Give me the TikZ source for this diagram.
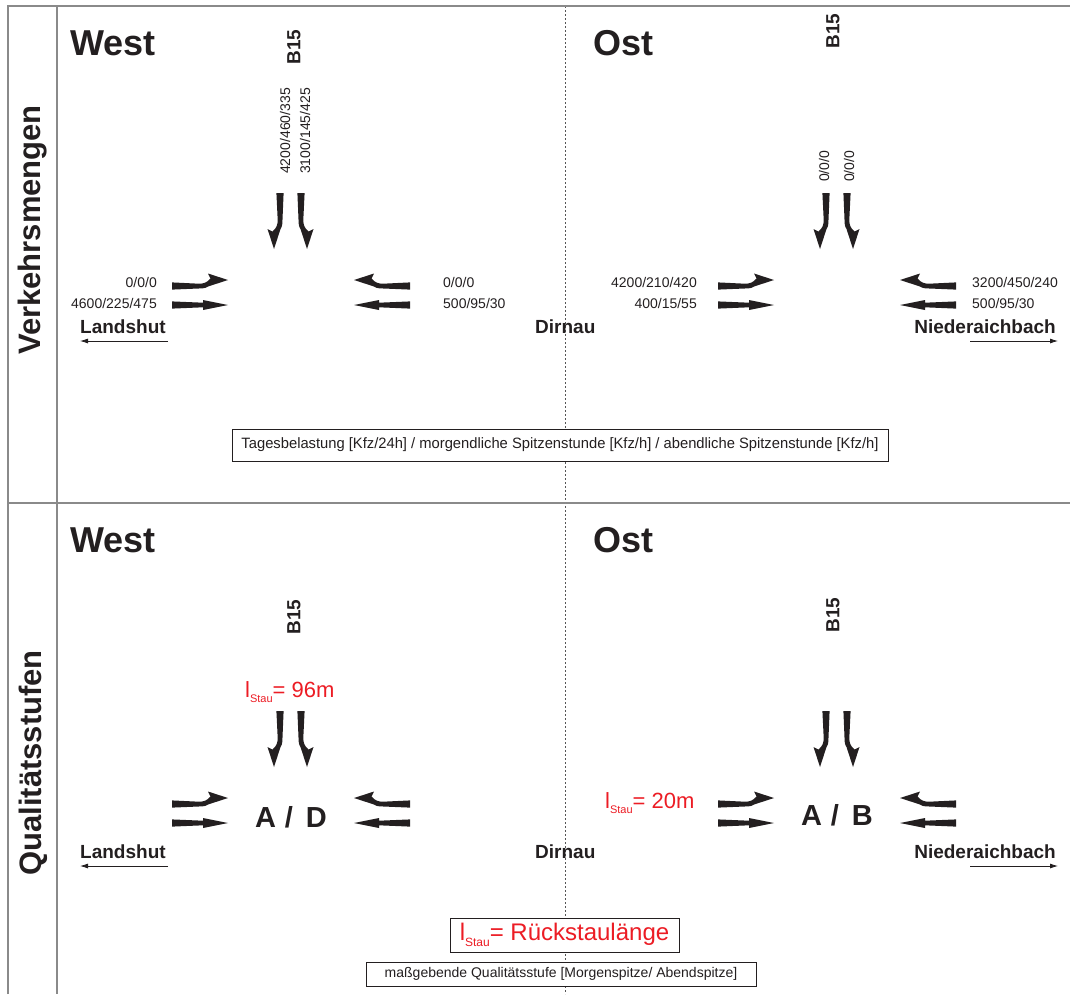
\documentclass[tikz,border=0pt]{standalone}
\usepackage{fontspec}
\setmainfont{Liberation Sans}
\usepackage{graphicx}
\usetikzlibrary{arrows.meta}

\definecolor{ink}{HTML}{231F20}
\definecolor{alert}{HTML}{EC1C24}
\definecolor{rulegray}{HTML}{8A8A8A}
\definecolor{dashgray}{HTML}{555555}

\newcommand\fs[1]{\fontsize{#1}{#1}\selectfont}

\tikzset{
  pics/straightarrow/.style={code={%
    \fill[ink] (0,-3.6) -- (31,-2.3) -- (31,-5) -- (56,0) -- (31,5) -- (31,2.3) -- (0,3.6) -- cycle;}},
  pics/turnarrow/.style={code={%
    \begin{scope}[yscale=#1]
      \fill[ink] (0,-3.6) -- (29,-2.4) .. controls (33,-2.4) and (35,-1.2) .. (36,-0.5)
        -- (56,6) -- (36,12.5) -- (38.5,7.5) .. controls (35,3.5) and (32,2.3) .. (27,2.3)
        -- (0,3.6) -- cycle;
    \end{scope}}},
  framerule/.style={draw=rulegray, line width=1.8pt},
  midline/.style={draw=dashgray, line width=0.9pt, dash pattern=on 2pt off 2pt},
  txt/.style={inner sep=0pt, text=ink},
  region/.style={txt, font=\bfseries\fs{36}},
  panel/.style={txt, font=\bfseries\fs{31}, rotate=90},
  road/.style={txt, font=\bfseries\fs{19}, rotate=90},
  num/.style={txt, font=\fs{14}},
  place/.style={txt, font=\bfseries\fs{19}},
  grade/.style={txt, font=\bfseries\fs{29}},
  queue/.style={inner sep=0pt, text=alert, font=\fs{22}},
  dirarrow/.style={draw=ink, line width=0.8pt, -{Latex[length=8pt,width=5pt]}},
  legendbox/.style={draw=ink, line width=0.9pt, fill=white, inner sep=0pt, text=ink},
}

% the six approach arrows of one T-junction, drawn around its centre
\newcommand\junctionarrows{%
  \pic at (-119,0) {turnarrow=-1};
  \pic at (-119,19) {straightarrow};
  \pic[rotate=180] at (119,0) {turnarrow=1};
  \pic[rotate=180] at (119,19) {straightarrow};
  \pic[rotate=-90] at (-11,-93) {turnarrow=1};
  \pic[rotate=-90] at (10,-93) {turnarrow=-1};
}

\begin{document}
\begin{tikzpicture}[x=1pt, y=-1pt]
\useasboundingbox (0,0) rectangle (1070,994);

% frame and panel separation
\draw[midline] (565,6) -- (565,994);
\draw[framerule] (8,994) -- (8,6) -- (1070,6);
\draw[framerule] (57,6) -- (57,994);
\draw[framerule] (8,503) -- (1070,503);

% panel titles
\node[panel] (tVerkehr) at (33,230) {Verkehrsmengen};
\node[panel] (tQual) at (33,763) {Qualitätsstufen};

% ---------------- upper panel: traffic volumes ----------------
\node[region, anchor=base west] (westA) at (70,55) {West};
\node[region, anchor=base west] (ostA) at (593,55) {Ost};

\node[road] (b15wA) at (294,47) {B15};
\node[road] (b15oA) at (833,31) {B15};

\begin{scope}[shift={(291,286)}] \junctionarrows \end{scope}
\begin{scope}[shift={(837,286)}] \junctionarrows \end{scope}

% west junction volumes
\node[num, rotate=90, anchor=base west] (vwS1) at (290,174) {4200/460/335};
\node[num, rotate=90, anchor=base west] (vwS2) at (310,174) {3100/145/425};
\node[num, anchor=base east] (vwE1) at (157,287) {0/0/0};
\node[num, anchor=base east] (vwE2) at (157,308) {4600/225/475};
\node[num, anchor=base west] (vwW1) at (443,287) {0/0/0};
\node[num, anchor=base west] (vwW2) at (443,308) {500/95/30};

% east junction volumes
\node[num, rotate=90, anchor=base west] (voS1) at (829,182) {0/0/0};
\node[num, rotate=90, anchor=base west] (voS2) at (854,182) {0/0/0};
\node[num, anchor=base east] (voE1) at (697,287) {4200/210/420};
\node[num, anchor=base east] (voE2) at (697,308) {400/15/55};
\node[num, anchor=base west] (voW1) at (972,287) {3200/450/240};
\node[num, anchor=base west] (voW2) at (972,308) {500/95/30};

% places
\node[place, anchor=base west] (landA) at (80,333) {Landshut};
\node[place, anchor=base west] (dirnA) at (535,333) {Dirnau};
\node[place, anchor=base east] (niedA) at (1056,333) {Niederaichbach};
\coordinate (landAfrom) at (168,341);
\coordinate (landAto) at (80,341);
\coordinate (niedAfrom) at (970,341);
\coordinate (niedAto) at (1058,341);
\draw[dirarrow] (landAfrom) -- (landAto);
\draw[dirarrow] (niedAfrom) -- (niedAto);

\node[legendbox, minimum width=656pt, minimum height=32pt] (capA) at (560,445)
  {\fs{15}\resizebox{637pt}{\height}{Tagesbelastung [Kfz/24h] / morgendliche Spitzenstunde [Kfz/h] / abendliche Spitzenstunde [Kfz/h]}};

% ---------------- lower panel: levels of service ----------------
\node[region, anchor=base west] (westB) at (70,552) {West};
\node[region, anchor=base west] (ostB) at (593,552) {Ost};

\node[road] (b15wB) at (294,617) {B15};
\node[road] (b15oB) at (833,615) {B15};

\begin{scope}[shift={(291,804)}] \junctionarrows \end{scope}
\begin{scope}[shift={(837,804)}] \junctionarrows \end{scope}

\node[grade, anchor=base] (gradeW) at (291,827) {A\hspace{0.3em}/\hspace{0.45em}D};
\node[grade, anchor=base] (gradeO) at (837,825) {A\hspace{0.3em}/\hspace{0.45em}B};

\node[queue, anchor=base west] (queueW) at (245,697) {l\raisebox{-5pt}{\fs{11}Stau}= 96m};
\node[queue, anchor=base west] (queueO) at (605,808) {l\raisebox{-5pt}{\fs{11}Stau}= 20m};

\node[place, anchor=base west] (landB) at (80,858) {Landshut};
\node[place, anchor=base west] (dirnB) at (535,858) {Dirnau};
\node[place, anchor=base east] (niedB) at (1056,858) {Niederaichbach};
\coordinate (landBfrom) at (168,866);
\coordinate (landBto) at (80,866);
\coordinate (niedBfrom) at (970,866);
\coordinate (niedBto) at (1058,866);
\draw[dirarrow] (landBfrom) -- (landBto);
\draw[dirarrow] (niedBfrom) -- (niedBto);

\node[legendbox, minimum width=229pt, minimum height=34pt] (capQueue) at (564.5,935)
  {\fs{24}\color{alert}l\raisebox{-6pt}{\fs{12}Stau}= Rückstaulänge};
\node[legendbox, minimum width=390pt, minimum height=24pt] (capGrade) at (561,974)
  {\fs{14}maßgebende Qualitätsstufe [Morgenspitze/ Abendspitze]};

\end{tikzpicture}
\end{document}
